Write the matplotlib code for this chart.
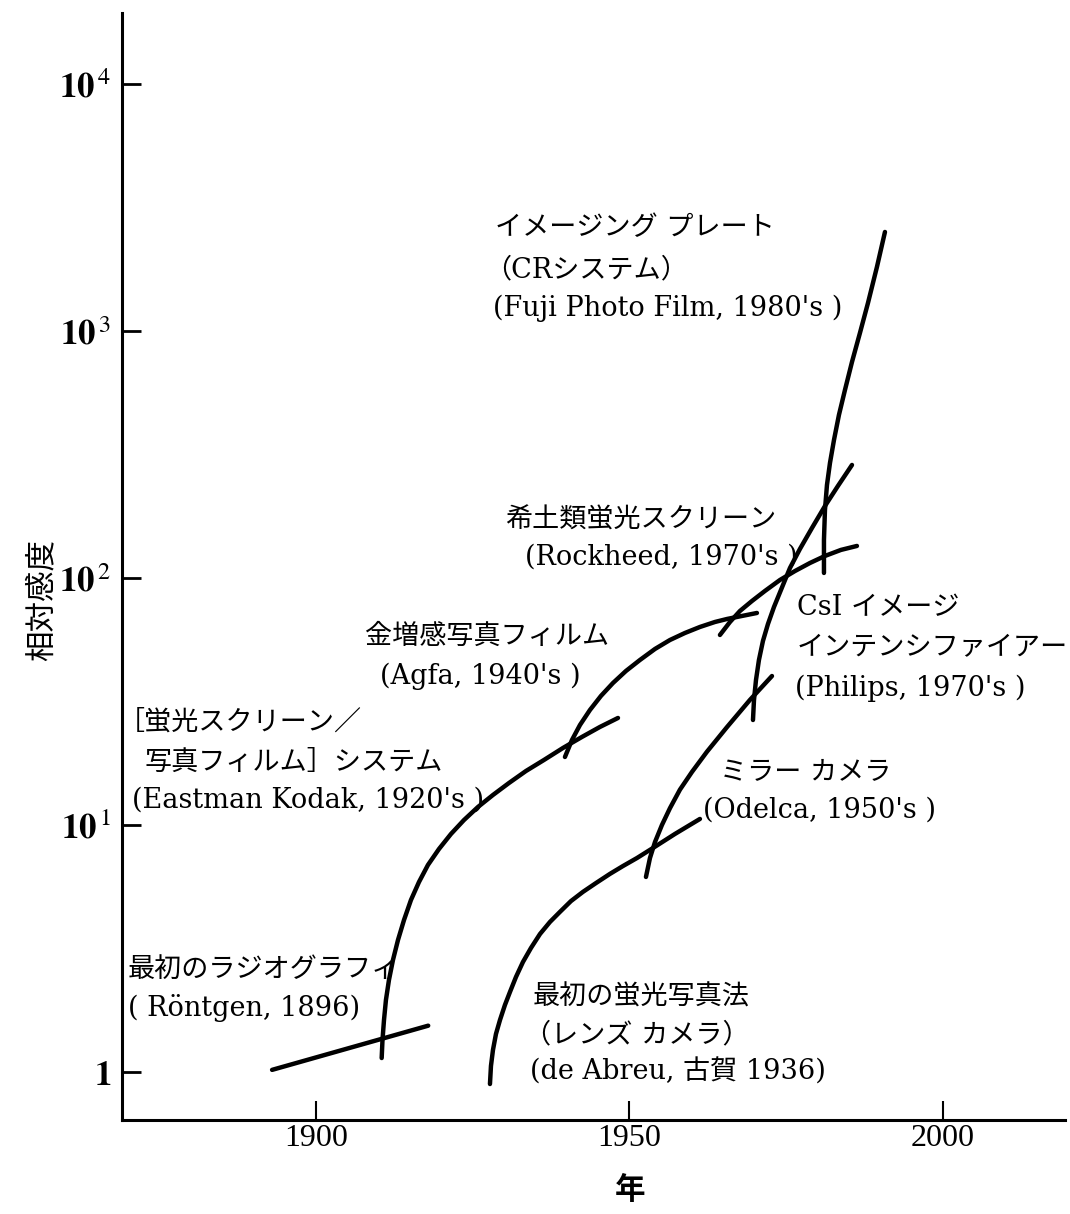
import matplotlib
matplotlib.use('Agg')
import matplotlib.pyplot as plt

# 相対感度の歴史 (年, 相対感度)
roentgen_years = [1893.0, 1917.9]
roentgen_vals = [1.02, 1.54]

kodak_years = [1910.48, 1910.61, 1910.85, 1911.16, 1911.64, 1912.28, 1913.08, 1914.04,
               1915.15, 1916.43, 1917.86, 1919.62, 1921.53, 1923.60, 1925.84, 1928.23,
               1930.78, 1933.49, 1936.36, 1939.39, 1942.42, 1945.29, 1948.17]
kodak_vals = [1.139, 1.348, 1.624, 1.957, 2.357, 2.841, 3.422, 4.124,
              4.970, 5.877, 6.889, 7.995, 9.196, 10.47, 11.83, 13.23,
              14.79, 16.54, 18.33, 20.50, 22.72, 24.94, 27.12]

agfa_years = [1939.71, 1940.83, 1942.11, 1943.70, 1945.45, 1947.37, 1949.44, 1951.67,
              1954.07, 1956.46, 1958.85, 1961.24, 1963.64, 1965.55, 1967.94, 1970.33]
agfa_vals = [18.85, 22.09, 25.41, 29.22, 33.30, 37.57, 42.03, 46.56,
             51.60, 56.10, 59.89, 63.34, 66.36, 68.23, 70.18, 72.17]

rockheed_years = [1964.43, 1966.03, 1967.62, 1969.54, 1971.61, 1974.00,
                  1976.40, 1978.79, 1981.18, 1983.73, 1986.28]
rockheed_vals = [58.78, 66.36, 73.52, 80.70, 88.62, 98.15,
                 106.7, 115.0, 122.8, 129.9, 134.8]

csi_years = [1969.70, 1969.86, 1970.18, 1970.65, 1971.29, 1972.09, 1973.05,
             1974.16, 1975.60, 1977.19, 1979.11, 1981.18, 1983.25, 1985.49]
csi_vals = [26.61, 32.07, 38.64, 46.56, 55.59, 65.13, 76.32,
            89.42, 109.8, 131.1, 159.4, 195.6, 235.8, 286.8]

plate_years = [1981.02, 1981.02, 1981.18, 1981.50, 1981.98, 1982.62, 1983.41,
               1984.37, 1985.49, 1986.76, 1988.04, 1989.47, 1990.75]
plate_vals = [104.8, 142.5, 188.5, 238.0, 292.2, 362.1, 457.1,
              576.9, 749.1, 981.6, 1298, 1816, 2517]

mirror_years = [1952.63, 1953.27, 1954.07, 1955.18, 1956.46, 1958.05,
                1959.97, 1962.36, 1965.55, 1969.22, 1972.73]
mirror_vals = [6.16, 7.35, 8.53, 10.0, 11.7, 13.9,
               16.4, 19.8, 24.9, 32.1, 40.1]

lens_years = [1927.75, 1927.91, 1928.23, 1928.71, 1929.35, 1930.14, 1930.94, 1931.90,
              1933.01, 1934.29, 1935.73, 1937.32, 1938.92, 1940.67, 1942.58, 1944.66,
              1946.89, 1948.96, 1951.20, 1953.75, 1957.26, 1961.24]
lens_vals = [0.894, 1.058, 1.228, 1.426, 1.624, 1.868, 2.108, 2.425,
             2.788, 3.177, 3.62, 4.05, 4.45, 4.92, 5.36, 5.82,
             6.34, 6.82, 7.35, 8.07, 9.20, 10.58]

x_ticks = [1900, 1950, 2000]
y_ticks = [1, 10, 100, 1000, 10000]
y_tick_labels = [r'$\mathbf{1}$', r'$\mathbf{10}^{\,1}$', r'$\mathbf{10}^{\,2}$',
                 r'$\mathbf{10}^{\,3}$', r'$\mathbf{10}^{\,4}$']

# ラベル: (テキスト, 年, 相対感度)
labels = [
    ('イメージング プレート', 1928.5, 2612),
    ('（CRシステム）', 1926.8, 1766),
    ("(Fuji Photo Film, 1980's )", 1928.2, 1239),
    ('希土類蛍光スクリーン', 1930.1, 172),
    ("(Rockheed, 1970's )", 1933.3, 122),
    ('CsI イメージ', 1976.7, 75.6),
    ('インテンシファイアー', 1976.7, 52.1),
    ("(Philips, 1970's )", 1976.4, 35.9),
    ('金増感写真フィルム', 1907.8, 58.2),
    ("(Agfa, 1940's )", 1910.2, 40.1),
    ('［蛍光スクリーン／', 1868.4, 26.1),
    ('写真フィルム］システム', 1872.7, 18.0),
    ("(Eastman Kodak, 1920's )", 1870.7, 12.6),
    ('ミラー カメラ', 1964.4, 16.4),
    ("(Odelca, 1950's )", 1961.7, 11.5),
    ('最初のラジオグラフィ', 1870.0, 2.59),
    ('( Röntgen, 1896)', 1870.0, 1.82),
    ('最初の蛍光写真法', 1934.6, 2.01),
    ('（レンズ カメラ）', 1933.1, 1.41),
    ('(de Abreu, 古賀 1936)', 1934.1, 1.0),
]

FONTS = ['DejaVu Serif', 'Noto Sans CJK JP']
plt.rcParams['font.family'] = FONTS
plt.rcParams['mathtext.fontset'] = 'stix'


def main():
    fig = plt.figure(figsize=(10.7, 12.14), dpi=100)
    ax = fig.add_axes([0.114, 0.0774, 0.8813, 0.9119])

    curves = [
        (roentgen_years, roentgen_vals),
        (kodak_years, kodak_vals),
        (agfa_years, agfa_vals),
        (rockheed_years, rockheed_vals),
        (csi_years, csi_vals),
        (plate_years, plate_vals),
        (mirror_years, mirror_vals),
        (lens_years, lens_vals),
    ]
    for xs, ys in curves:
        ax.plot(xs, ys, color='black', lw=3.2, solid_capstyle='round',
                solid_joinstyle='round')

    ax.set_yscale('log')
    ax.set_xlim(1869.06, 2019.46)
    ax.set_ylim(0.639, 19380)

    ax.set_xticks(x_ticks)
    ax.set_xticklabels([str(t) for t in x_ticks], fontsize=23,
                       fontfamily='Liberation Serif')
    ax.set_yticks(y_ticks)
    ax.set_yticklabels(y_tick_labels, fontsize=25)
    ax.minorticks_off()
    ax.tick_params(axis='x', direction='in', length=14, width=1.5, pad=3)
    ax.tick_params(axis='y', direction='in', length=14, width=2, pad=8)

    for side in ['top', 'right']:
        ax.spines[side].set_visible(False)
    for side in ['left', 'bottom']:
        ax.spines[side].set_linewidth(2.2)

    for txt, x, y in labels:
        ax.text(x, y, txt, fontsize=19.5, ha='left', va='center')

    ax.set_ylabel('相対感度', fontsize=22, fontfamily='Noto Sans CJK JP')
    ax.yaxis.set_label_coords(-0.068, 0.47)
    ax.set_xlabel('年', fontsize=22, fontweight='bold', fontfamily='Noto Sans CJK JP')
    ax.xaxis.set_label_coords(0.539, -0.049)

    fig.savefig('out.png', dpi=100)


if __name__ == "__main__":
    main()
